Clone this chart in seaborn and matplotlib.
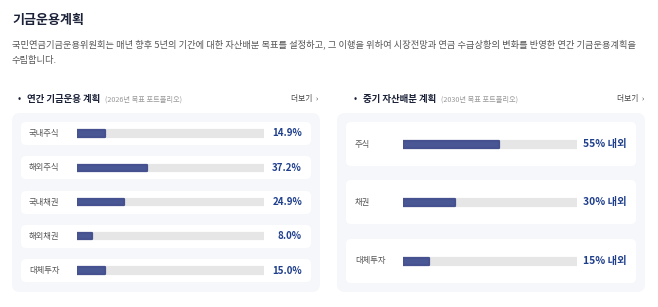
import numpy as np
import pandas as pd
import matplotlib
matplotlib.use("Agg")
import matplotlib.pyplot as plt
import matplotlib.transforms as mtransforms
from matplotlib.patches import FancyBboxPatch
import seaborn as sns

# data
annual_labels = ["국내주식", "해외주식", "국내채권", "해외채권", "대체투자"]
annual_values = [14.9, 37.2, 24.9, 8.0, 15.0]
mid_labels = ["주식", "채권", "대체투자"]
mid_values = [55, 30, 15]
mid_texts = ["55% 내외", "30% 내외", "15% 내외"]

sns.set_theme(style="white")
plt.rcParams['font.family'] = ['Noto Sans CJK KR', 'DejaVu Sans']

W, H = 658, 307
fig = plt.figure(figsize=(W / 100, H / 100), dpi=100)
fig.patch.set_facecolor("white")

# pixel coords (origin top-left) -> figure
px = mtransforms.Affine2D().scale(1 / W, -1 / H).translate(0, 1) + fig.transFigure

NAVY = "#1b2238"
BAR = "#4a5795"
TRACK = "#e6e6e6"
VALC = "#1f3f8c"
GRAY = "#555555"


def box(x0, y0, x1, y1, color, r):
    fig.patches.append(FancyBboxPatch((x0, y0), x1 - x0, y1 - y0,
                                      boxstyle=f"round,pad=0,rounding_size={r}",
                                      transform=px, facecolor=color,
                                      edgecolor="none", zorder=-5))


# header texts
fig.text(12, 20, "기금운용계획", transform=px, fontsize=9.4, fontweight="bold",
         color=NAVY, va="center")
fig.text(12, 44, "국민연금기금운용위원회는 매년 향후 5년의 기간에 대한 자산배분 목표를 설정하고, "
         "그 이행을 위하여 시장전망과 연금 수급상황의 변화를 반영한 연간 기금운용계획을",
         transform=px, fontsize=6.65, color="#555555", va="center")
fig.text(12, 60, "수립합니다.", transform=px, fontsize=6.65, color="#555555", va="center")

# section headers
for bx, title, sub, more_x in [(19, "연간 기금운용 계획", "(2026년 목표 포트폴리오)", 318),
                               (355, "중기 자산배분 계획", "(2030년 목표 포트폴리오)", 644)]:
    fig.text(bx, 99, "•", transform=px, fontsize=7, color=NAVY, va="center", ha="center")
    fig.text(bx + 8, 99, title, transform=px, fontsize=6.8, fontweight="bold",
             color=NAVY, va="center")
    fig.text(bx + 86, 99.5, sub, transform=px, fontsize=5.2, color="#999999", va="center")
    fig.text(more_x, 99, "더보기  ›", transform=px, fontsize=5.6, color="#444444",
             va="center", ha="right")

# panels and cards
box(12, 113, 320, 292, "#f5f7fa", 8)
box(337, 113, 645, 292, "#f5f7fa", 8)
for y0 in [122, 156, 191, 225, 259]:
    box(21, y0, 311, y0 + 23, "white", 5)
for y0 in [122, 180, 239]:
    box(346, y0, 636, y0 + 44, "white", 5)


def bar_axes(x0, x1, c0, cN, n):
    step = (cN - c0) / (n - 1)
    top, bot = c0 - step / 2, cN + step / 2
    ax = fig.add_axes([x0 / W, 1 - bot / H, (x1 - x0) / W, (bot - top) / H])
    ax.patch.set_alpha(0)
    ax.set_zorder(2)
    return ax, step


def draw(ax, labels, values, texts, step, bar_px, lab_x, val_x, lab_fs, val_fs):
    width = bar_px / step
    df = pd.DataFrame({"cat": labels, "val": values, "full": [100] * len(labels)})
    sns.barplot(data=df, y="cat", x="full", color=TRACK, width=width,
                ax=ax, saturation=1, orient="h")
    sns.barplot(data=df, y="cat", x="val", color=BAR, width=width,
                ax=ax, saturation=1, orient="h")
    for i, p in enumerate(ax.patches):
        p.set_joinstyle("round")
        p.set_linewidth(1.6)
        p.set_edgecolor(TRACK if i < len(labels) else "#46528f")
    ax.set_xlim(0, 100)
    ax.set_ylim(len(labels) - 0.5, -0.5)
    ax.axis("off")
    tr = mtransforms.blended_transform_factory(px, ax.transData)
    for i, (lab, txt) in enumerate(zip(labels, texts)):
        ax.text(lab_x, i, lab, transform=tr, fontsize=lab_fs, color=GRAY,
                va="center", ha="left", clip_on=False)
        ax.text(val_x, i, txt, transform=tr, fontsize=val_fs, color=VALC,
                fontweight="bold", va="center", ha="right", clip_on=False)


ax1, s1 = bar_axes(77, 264, 133.5, 270.5, len(annual_labels))
draw(ax1, annual_labels, annual_values, [f"{v:.1f}%" for v in annual_values],
     s1, 6.5, 29, 302, 6.0, 7.0)

ax2, s2 = bar_axes(403, 577, 144, 261, len(mid_labels))
draw(ax2, mid_labels, mid_values, mid_texts, s2, 7, 355, 627, 6.0, 7.4)

fig.savefig("out.png", dpi=100, facecolor="white")
